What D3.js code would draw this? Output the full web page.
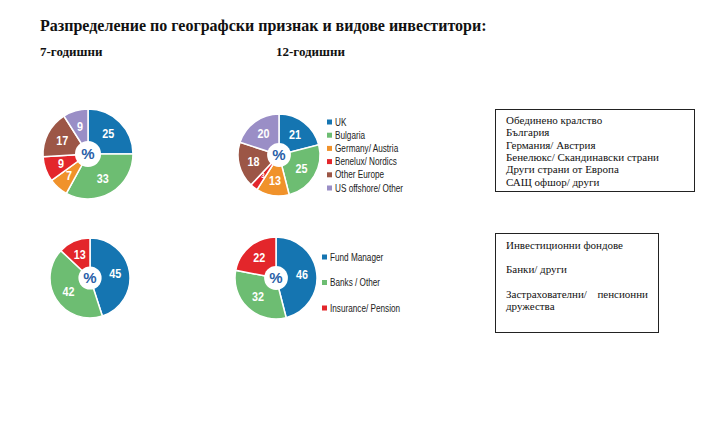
<!DOCTYPE html>
<html><head><meta charset="utf-8">
<script src="https://cdn.jsdelivr.net/npm/d3@7"></script>
<style>
body{margin:0;background:#fff;}
svg{display:block;}
.serif{font-family:"Liberation Serif","Times New Roman",serif;}
.narrow{font-family:"Liberation Sans Narrow","Arial Narrow","Liberation Sans",Arial,sans-serif;}
</style></head><body>
<svg id="c" width="717" height="432"></svg>
<script>
const title = "Разпределение по географски признак и видове инвеститори:";
const subtitles = ["7-годишни", "12-годишни"];
const geoCategories = ["UK", "Bulgaria", "Germany/ Austria", "Benelux/ Nordics", "Other Europe", "US offshore/ Other"];
const geo7 = [25, 33, 7, 9, 17, 9];
const geo12 = [21, 25, 13, 3, 18, 20];
const invCategories = ["Fund Manager", "Banks / Other", "Insurance/ Pension"];
const inv7 = [45, 42, 13];
const inv12 = [46, 32, 22];
const geoColors = ["#1575b1", "#6dbd72", "#f0922b", "#e3262b", "#9c5646", "#9a8ec6"];
const invColors = ["#1575b1", "#6dbd72", "#e3262b"];
const geoBoxLines = ["Обединено кралство", "България", "Германия/ Австрия", "Бенелюкс/ Скандинавски страни", "Други страни от Европа", "САЩ офшор/ други"];
const invBoxLines = [["Инвестиционни фондове"], ["Банки/ други"], ["Застрахователни/", "пенсионни"], ["дружества"]];

const svg = d3.select("#c");

svg.append("text").attr("class","serif").attr("x",40).attr("y",31)
  .attr("font-size",16).attr("font-weight","bold").attr("fill","#111").text(title);
svg.append("text").attr("class","serif").attr("x",40).attr("y",56)
  .attr("font-size",13).attr("font-weight","bold").attr("fill","#111").text(subtitles[0]);
svg.append("text").attr("class","serif").attr("x",276).attr("y",56)
  .attr("font-size",13).attr("font-weight","bold").attr("fill","#111").text(subtitles[1]);

function drawPie(values, colors, cx, cy, r, labelR, smallIdx) {
  const g = svg.append("g").attr("transform", `translate(${cx},${cy})`);
  const pie = d3.pie().sort(null).value(d => d);
  const arcs = pie(values);
  const arc = d3.arc().innerRadius(0).outerRadius(r);
  g.selectAll("path").data(arcs).enter().append("path")
    .attr("d", arc).attr("fill", (d,i) => colors[i])
    .attr("stroke", "#fff").attr("stroke-width", 1.5);
  const lab = d3.arc().innerRadius(r*labelR).outerRadius(r*labelR);
  g.selectAll("text.v").data(arcs).enter().append("text")
    .attr("class","narrow")
    .attr("transform", d => `translate(${lab.centroid(d)}) scale(0.9,1)`)
    .attr("text-anchor","middle").attr("dy","0.36em")
    .attr("font-size", (d,i) => i === smallIdx ? 7 : 12)
    .attr("font-weight","bold").attr("fill","#fff")
    .text(d => d.data);
  g.append("circle").attr("r", r*0.29).attr("fill","#fff");
  g.append("text").attr("class","narrow").attr("text-anchor","middle").attr("dy","0.36em")
    .attr("font-size",15).attr("font-weight","bold").attr("fill","#2a5fa8").text("%");
}

drawPie(geo7, geoColors, 88, 154, 45, 0.64, -1);
drawPie(geo12, geoColors, 279, 155, 41, 0.64, 3);
drawPie(inv7, invColors, 90, 278, 40, 0.64, -1);
drawPie(inv12, invColors, 276, 278, 41, 0.64, -1);

function legend(cats, colors, x, y0, step) {
  const g = svg.append("g");
  const y = d3.scalePoint().domain(cats).range([y0, y0 + step*(cats.length-1)]);
  cats.forEach((c,i) => {
    g.append("rect").attr("x", x).attr("y", y(c)-2.5).attr("width",5).attr("height",5).attr("fill",colors[i]);
    g.append("text").attr("class","narrow")
      .attr("transform", `translate(${x+8},${y(c)}) scale(0.82,1)`).attr("dy","0.35em")
      .attr("font-size",10).attr("fill","#222").text(c);
  });
}
legend(geoCategories, geoColors, 327, 122, 13.2);
legend(invCategories, invColors, 322, 257, 25.5);

// Box 1
svg.append("rect").attr("x",495.5).attr("y",109.5).attr("width",199).attr("height",82)
  .attr("fill","none").attr("stroke","#222").attr("stroke-width",1);
geoBoxLines.forEach((t,i) => {
  svg.append("text").attr("class","serif").attr("x",506).attr("y",124 + i*12.3)
    .attr("font-size",11).attr("fill","#111").text(t);
});
// Box 2
svg.append("rect").attr("x",495.5).attr("y",233.5).attr("width",163).attr("height",99)
  .attr("fill","none").attr("stroke","#222").attr("stroke-width",1);
const b2y = [249, 273, 298, 310];
invBoxLines.forEach((parts,i) => {
  svg.append("text").attr("class","serif").attr("x",506).attr("y",b2y[i])
    .attr("font-size",11).attr("fill","#111").text(parts[0]);
  if (parts.length > 1) {
    svg.append("text").attr("class","serif").attr("x",648).attr("y",b2y[i]).attr("text-anchor","end")
      .attr("font-size",11).attr("fill","#111").text(parts[1]);
  }
});
</script></body></html>
